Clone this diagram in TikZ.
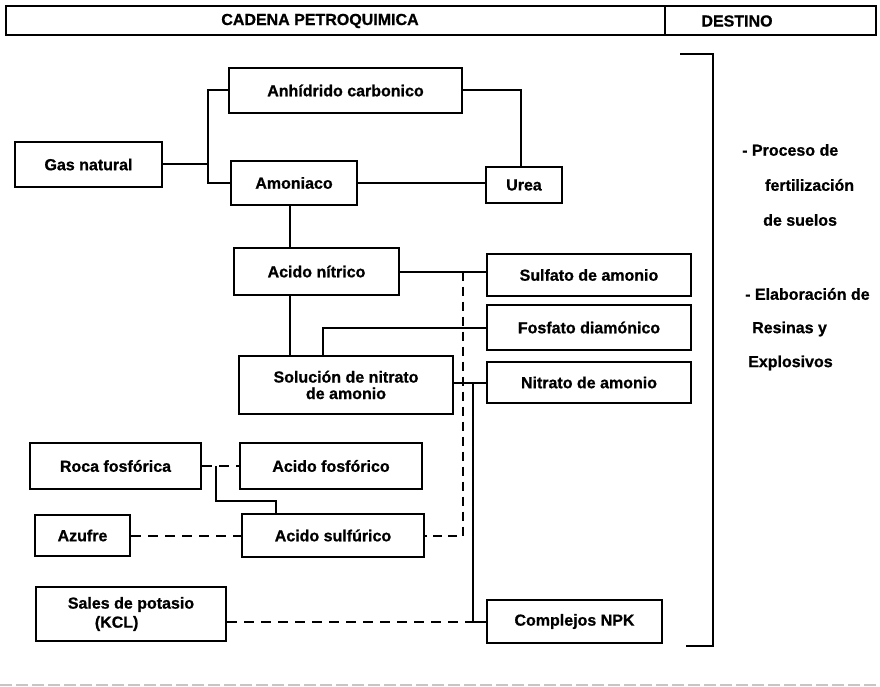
\documentclass[tikz,border=0pt]{standalone}
\usepackage{fontspec}
\setmainfont{Liberation Sans}[BoldFeatures={FakeBold=0.8}]
\begin{document}
\begin{tikzpicture}[x=1pt,y=-1pt,
  every node/.style={font=\bfseries\fontsize{16}{18}\selectfont},
  box/.style={draw, line width=2pt, inner sep=0pt, align=center},
  conn/.style={line width=2pt},
  dconn/.style={line width=2pt, dash pattern=on 10pt off 7pt},
  dvert/.style={line width=2pt, dash pattern=on 9pt off 6pt},
  side/.style={anchor=west, inner sep=0pt}
]
\useasboundingbox (0,0) rectangle (880,687);

% header
\draw[line width=2pt] (6,6) rectangle (876,35);
\draw[line width=2pt] (665,6) -- (665,35);
\node (cad) at (320,21) {CADENA PETROQUIMICA};
\node (des) at (737,21) {DESTINO};

% boxes
\node[box, minimum width=147pt, minimum height=45pt] (gas) at (88.5,164.5) {Gas natural};
\node[box, minimum width=233pt, minimum height=45pt] (anh) at (345.5,90.5) {Anhídrido carbonico};
\node[box, minimum width=126pt, minimum height=44pt] (amo) at (294,183) {Amoniaco};
\node[box, minimum width=76pt, minimum height=36pt] (urea) at (524,185) {Urea};
\node[box, minimum width=165pt, minimum height=47pt] (nit) at (316.5,271.5) {Acido nítrico};
\node[box, minimum width=204pt, minimum height=42pt] (sulf) at (589,275) {Sulfato de amonio};
\node[box, minimum width=204pt, minimum height=45pt] (fosd) at (589,327.5) {Fosfato diamónico};
\node[box, minimum width=204pt, minimum height=41pt] (nitam) at (589,382.5) {Nitrato de amonio};
\node[box, minimum width=214pt, minimum height=58pt, font=\bfseries\fontsize{16}{16.5}\selectfont] (sol) at (346,385) {Solución de nitrato\\de amonio};
\node[box, minimum width=171pt, minimum height=46pt] (roca) at (115.5,466) {Roca fosfórica};
\node[box, minimum width=182pt, minimum height=46pt] (afos) at (331,466) {Acido fosfórico};
\node[box, minimum width=95pt, minimum height=41pt] (azu) at (82.5,535.5) {Azufre};
\node[box, minimum width=182pt, minimum height=43pt] (asul) at (333,535.5) {Acido sulfúrico};
\node[box, minimum width=190pt, minimum height=54pt, align=left, font=\bfseries\fontsize{16}{19}\selectfont] (sales) at (131,614) {Sales de potasio\\\hspace*{27pt}(KCL)};
\node[box, minimum width=175pt, minimum height=43pt] (npk) at (574.5,621.5) {Complejos NPK};

% junction coordinates
\coordinate (j1) at (208,0);
\coordinate (vx) at (290,0);
\coordinate (fx) at (323,0);
\coordinate (sx) at (473,0);
\coordinate (dx) at (463,0);
\coordinate (ux) at (521,0);
\coordinate (r1) at (216,501);
\coordinate (ax) at (276,0);

% solid connectors
\draw[conn] (gas.east) -- (gas.east -| j1);
\draw[conn] (anh.west) -- (anh.west -| j1) -- (amo.west -| j1) -- (amo.west);
\draw[conn] (anh.east) -- (anh.east -| ux) -- (urea.north -| ux);
\draw[conn] (amo.east) -- (amo.east -| urea.west);
\draw[conn] (amo.south -| vx) -- (nit.north -| vx);
\draw[conn] (nit.south -| vx) -- (sol.north -| vx);
\draw[conn] (nit.east) -- (nit.east -| sulf.west);
\draw[conn] (fosd.west) -- (fosd.west -| fx) -- (sol.north -| fx);
\draw[conn] (nitam.west -| sol.east) -- (nitam.west);
\draw[conn] (nitam.west -| sx) -- (npk.west -| sx) -- (npk.west);
\draw[conn] (roca.east -| r1) -- (r1) -- (r1 -| ax) -- (asul.north -| ax);

% dashed connectors
\draw[dvert] (nit.east -| dx) -- (asul.east -| dx) -- (asul.east);
\draw[dconn] (roca.east) -- (afos.west);
\draw[dconn] (azu.east) -- (asul.west);
\draw[dconn] (npk.west -| sales.east) -- (npk.west -| sx);

% bracket
\coordinate (b1) at (680,54);
\coordinate (b2) at (713,54);
\coordinate (b3) at (713,646);
\coordinate (b4) at (686,646);
\draw[conn] (b1) -- (b2) -- (b3) -- (b4);

% destination texts
\node[side] (t1) at (742,150) {- Proceso de};
\node[side] (t2) at (765,185) {fertilización};
\node[side] (t3) at (763,220) {de suelos};
\node[side] (t4) at (745,294) {- Elaboración de};
\node[side] (t5) at (752,329) {Resinas y};
\node[side] (t6) at (748,363) {Explosivos};

% faint bottom line
\draw[gray!45, line width=1.2pt, dash pattern=on 12pt off 4pt] (0,685) -- (880,685);
\end{tikzpicture}
\end{document}
